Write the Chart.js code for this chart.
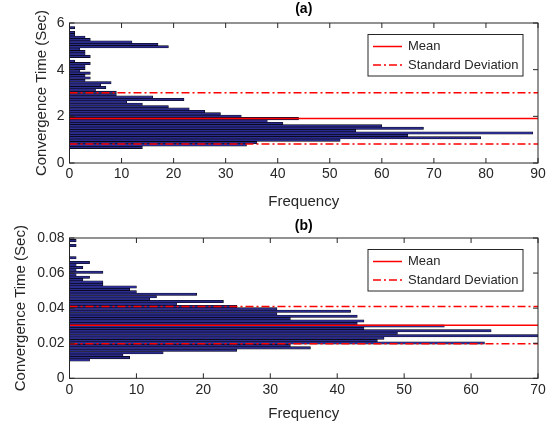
<!DOCTYPE html>
<html>
<head>
<meta charset="utf-8">
<script src="https://cdn.jsdelivr.net/npm/chart.js@4.4.1/dist/chart.umd.min.js"></script>
<style>
  html, body { margin: 0; padding: 0; background: #fff; }
  .panel { width: 554px; position: relative; }
</style>
</head>
<body>
<div class="panel" style="height:214px"><canvas id="grafA" width="554" height="214"></canvas></div>
<div class="panel" style="height:215px"><canvas id="grafB" width="554" height="215"></canvas></div>
<script>
// (a) centros de clase (s) y frecuencias
const binsA = [0.670, 0.773, 0.875, 0.978, 1.080, 1.183, 1.286, 1.388, 1.491, 1.593,
  1.696, 1.799, 1.901, 2.004, 2.106, 2.209, 2.312, 2.414, 2.517, 2.619,
  2.722, 2.825, 2.927, 3.030, 3.132, 3.235, 3.338, 3.440, 3.543, 3.645,
  3.748, 3.851, 3.953, 4.056, 4.158, 4.261, 4.364, 4.466, 4.569, 4.671,
  4.774, 4.877, 4.979, 5.082, 5.184, 5.287, 5.390, 5.492, 5.595, 5.697, 5.800];
const freqA = [14, 34, 36, 52, 79, 65, 89, 55, 68, 60,
  41, 38, 44, 33, 29, 26, 23, 19, 14, 11,
  22, 16, 9, 9, 5, 7, 6, 8, 3, 4,
  3, 4, 2, 3, 3, 4, 1, 0, 4, 3,
  3, 2, 19, 17, 12, 4, 3, 1, 1, 0, 1];
const mediaA = 1.91;
const desvA = 1.1;

// (b)
const binsB = [0.01040, 0.01179, 0.01318, 0.01457, 0.01596, 0.01735, 0.01874, 0.02013, 0.02152, 0.02291,
  0.02430, 0.02569, 0.02708, 0.02847, 0.02986, 0.03125, 0.03264, 0.03403, 0.03542, 0.03681,
  0.03820, 0.03959, 0.04098, 0.04237, 0.04376, 0.04515, 0.04654, 0.04793, 0.04932, 0.05071,
  0.05210, 0.05349, 0.05488, 0.05627, 0.05766, 0.05905, 0.06044, 0.06183, 0.06322, 0.06461,
  0.06600, 0.06739, 0.06878, 0.07017, 0.07156, 0.07295, 0.07434, 0.07573, 0.07712, 0.07851];
const freqB = [3, 9, 8, 14, 25, 36, 33, 62, 46, 47,
  70, 49, 63, 44, 56, 43, 44, 33, 43, 31,
  42, 31, 25, 16, 23, 12, 13, 19, 10, 9,
  10, 5, 5, 2, 3, 1, 5, 1, 2, 1,
  3, 0, 1, 0, 0, 0, 0, 1, 0, 1];
const mediaB = 0.0303;
const desvB = 0.0106;

const fuente = "'Liberation Sans', Arial, Helvetica, sans-serif";
const gris = '#262626';

// caja de ejes estilo MATLAB + leyenda
const cajaEjes = {
  id: 'cajaEjes',
  afterDraw(chart) {
    const { ctx, chartArea: a, scales } = chart;
    ctx.save();
    ctx.strokeStyle = gris;
    ctx.lineWidth = 1;
    ctx.strokeRect(a.left, a.top, a.right - a.left, a.bottom - a.top);
    const tl = 5;
    ctx.beginPath();
    scales.x.ticks.forEach(t => {
      const px = scales.x.getPixelForValue(t.value);
      ctx.moveTo(px, a.bottom); ctx.lineTo(px, a.bottom - tl);
      ctx.moveTo(px, a.top); ctx.lineTo(px, a.top + tl);
    });
    scales.y.ticks.forEach(t => {
      const py = scales.y.getPixelForValue(t.value);
      ctx.moveTo(a.left, py); ctx.lineTo(a.left + tl, py);
      ctx.moveTo(a.right, py); ctx.lineTo(a.right - tl, py);
    });
    ctx.stroke();

    // leyenda
    const bx = a.right - 170, by = a.top + 11.5, bw = 155, bh = 41.5;
    ctx.fillStyle = '#fff';
    ctx.fillRect(bx, by, bw, bh);
    ctx.strokeRect(bx, by, bw, bh);
    const items = chart.data.datasets.filter(d => d.enLeyenda);
    ctx.font = '13px ' + fuente;
    ctx.textBaseline = 'middle';
    items.forEach((d, i) => {
      const y = by + 12 + i * 18.5;
      ctx.strokeStyle = d.borderColor;
      ctx.lineWidth = d.borderWidth;
      ctx.setLineDash(d.borderDash || []);
      ctx.beginPath();
      ctx.moveTo(bx + 5, y); ctx.lineTo(bx + 34, y);
      ctx.stroke();
      ctx.setLineDash([]);
      ctx.fillStyle = gris;
      ctx.fillText(d.label, bx + 40, y);
    });
    ctx.restore();
  }
};

function crearHist(id, titulo, bins, freq, media, desv, yMax, yStep, xMax, geo) {
  const ctx = document.getElementById(id).getContext('2d');
  const puntos = bins.map((b, i) => ({ y: b, x: freq[i] }));
  const linea = v => [{ x: 0, y: v }, { x: xMax, y: v }];
  const formato = v => String(+Number(v).toFixed(4));

  return new Chart(ctx, {
    type: 'bar',
    data: {
      datasets: [
        { type: 'line', label: 'Mean', data: linea(media), borderColor: '#ff0000', borderWidth: 1.5,
          pointRadius: 0, order: 0, enLeyenda: true },
        { type: 'line', label: 'Standard Deviation', data: linea(media + desv), borderColor: '#ff0000',
          borderWidth: 1.5, borderDash: [8, 3, 2, 3], pointRadius: 0, order: 0, enLeyenda: true },
        { type: 'line', label: 'sd-', data: linea(media - desv), borderColor: '#ff0000',
          borderWidth: 1.5, borderDash: [8, 3, 2, 3], pointRadius: 0, order: 0 },
        { type: 'bar', label: 'hist', data: puntos, backgroundColor: '#2b2b8c', borderColor: '#000',
          borderWidth: 0.6, categoryPercentage: 1, barPercentage: 1, order: 1 }
      ]
    },
    options: {
      indexAxis: 'y',
      responsive: false,
      animation: false,
      layout: { padding: { left: 0, right: 16, top: 0, bottom: 0 } },
      scales: {
        x: {
          type: 'linear', min: 0, max: xMax,
          grid: { display: false, drawTicks: false },
          border: { display: false },
          ticks: { stepSize: 10, padding: 3, color: gris, font: { family: fuente, size: 14 }, callback: formato },
          title: { display: true, text: 'Frequency', color: gris, font: { family: fuente, size: 15 },
            padding: { top: 0, bottom: geo.fondoTitulo } },
          afterFit: s => { s.height = geo.altoX; }
        },
        y: {
          type: 'linear', min: 0, max: yMax, offset: false,
          grid: { display: false, drawTicks: false },
          border: { display: false },
          ticks: { stepSize: yStep, padding: 5, color: gris, font: { family: fuente, size: 14 }, callback: formato },
          title: { display: true, text: 'Convergence Time (Sec)', color: gris, font: { family: fuente, size: 15 },
            padding: { top: geo.padY, bottom: 0 } },
          afterFit: s => { s.width = 69.5; }
        }
      },
      plugins: {
        legend: { display: false },
        tooltip: { enabled: false },
        title: {
          display: true, text: titulo, fullSize: false, color: '#000',
          font: { family: fuente, size: 14, weight: 'bold' },
          padding: geo.padTitulo
        }
      }
    },
    plugins: [cajaEjes]
  });
}

crearHist('grafA', '(a)', binsA, freqA, mediaA, desvA, 6, 2, 90,
  { altoX: 51, fondoTitulo: 3.3, padY: 32.5, padTitulo: { top: 1, bottom: 5.2 } });
crearHist('grafB', '(b)', binsB, freqB, mediaB, desvB, 0.08, 0.02, 70,
  { altoX: 50.7, fondoTitulo: 6, padY: 12, padTitulo: { top: 3.3, bottom: 3.9 } });
</script>
</body>
</html>
